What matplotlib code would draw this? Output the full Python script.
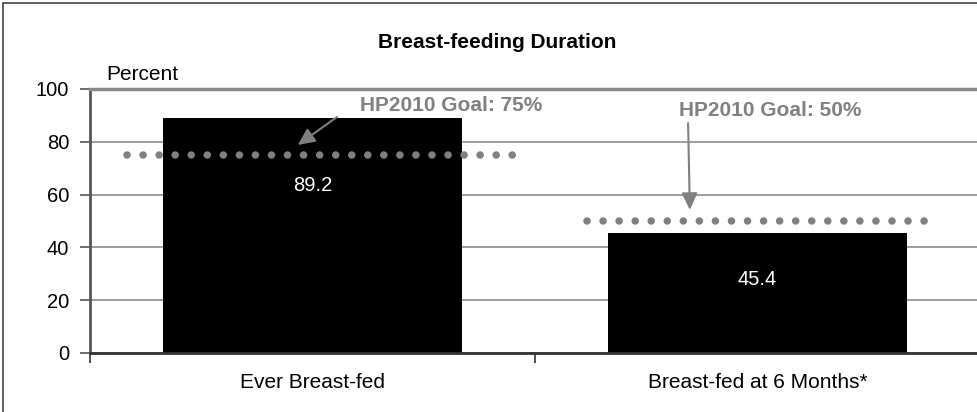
import matplotlib
matplotlib.use("Agg")
from matplotlib import pyplot as plt
from matplotlib.patches import Rectangle

# chart data
categories = ["Ever Breast-fed", "Breast-fed at 6 Months*"]
percent = [89.2, 45.4]
goal_labels = ["HP2010 Goal: 75%", "HP2010 Goal: 50%"]
goal_values = [75, 50]
goal_spans = [(-0.417, 0.45), (0.617, 1.376)]
y_ticks = [0, 20, 40, 60, 80, 100]

plt.rcParams["font.family"] = ["Liberation Sans", "DejaVu Sans"]
grey = "#808080"

fig = plt.figure(figsize=(9.77, 4.12), dpi=100)
# outer frame (the right / bottom edges fall outside the picture)
fig.patches.append(Rectangle((3 / 977, -0.05), 1.05, 1 - 3 / 412 + 0.05,
                             transform=fig.transFigure, fill=False,
                             edgecolor="#333333", linewidth=1.1))

ax = fig.add_axes([90 / 977, 59 / 412, 890 / 977, 264 / 412])
x = range(len(categories))
ax.bar(x, percent, width=0.67, color="black", zorder=2)

# value labels inside the bars (excel puts them a bit below the top)
label_y = [63.6, 28.0]
for i, v in enumerate(percent):
    ax.text(i, label_y[i], f"{v:.1f}", color="white", fontsize=14.5,
            ha="center", va="center", zorder=4)

# dotted goal lines
for (x0, x1), g in zip(goal_spans, goal_values):
    ax.plot([x0, x1], [g, g], color=grey, lw=5.4, linestyle=(0, (0.01, 2.13)),
            dash_capstyle="round", solid_capstyle="round", zorder=3)

# goal notes with arrows
ax.text(0.311, 93.9, goal_labels[0], color=grey, fontsize=15, fontweight="bold",
        ha="center", va="center", zorder=5)
ax.text(1.029, 91.7, goal_labels[1], color=grey, fontsize=15, fontweight="bold",
        ha="center", va="center", zorder=5)
arrow = dict(arrowstyle="-|>,head_length=0.85,head_width=0.4", color=grey,
             lw=1.5, mutation_scale=12, shrinkA=0, shrinkB=0)
ax.annotate("", xy=(-0.033, 78.8), xytext=(0.055, 89.4), arrowprops=arrow, zorder=5)
ax.annotate("", xy=(0.848, 54.2), xytext=(0.844, 87.1), arrowprops=arrow, zorder=5)

ax.set_xlim(-0.5, 1.5)
ax.set_ylim(0, 100)
ax.set_yticks(y_ticks)
ax.set_yticklabels([str(t) for t in y_ticks], fontsize=14.5)
ax.set_xticks([-0.5, 0.5, 1.5])
ax.set_xticklabels(["", "", ""])
for i, c in enumerate(categories):
    ax.text(i, -11.3, c, fontsize=15, ha="center", va="center")

ax.tick_params(axis="y", direction="out", length=7, width=1.2, color="#555555", pad=8)
ax.tick_params(axis="x", direction="out", length=7, width=1.2, color="#333333")
ax.grid(axis="y", color="#8c8c8c", linewidth=1.2, zorder=0)
ax.set_axisbelow(True)
ax.spines["left"].set_color("#555555")
ax.spines["left"].set_linewidth(2)
ax.spines["bottom"].set_color("#333333")
ax.spines["bottom"].set_linewidth(2)
ax.spines["top"].set_color("#8a8a8a")
ax.spines["top"].set_linewidth(2.5)
ax.spines["right"].set_visible(False)

fig.text(106 / 977, 1 - 75 / 412, "Percent", fontsize=15, ha="left", va="center")
fig.text(497 / 977, 1 - 42 / 412, "Breast-feeding Duration", fontsize=15,
         fontweight="bold", ha="center", va="center")

fig.savefig("out.png", dpi=100)
